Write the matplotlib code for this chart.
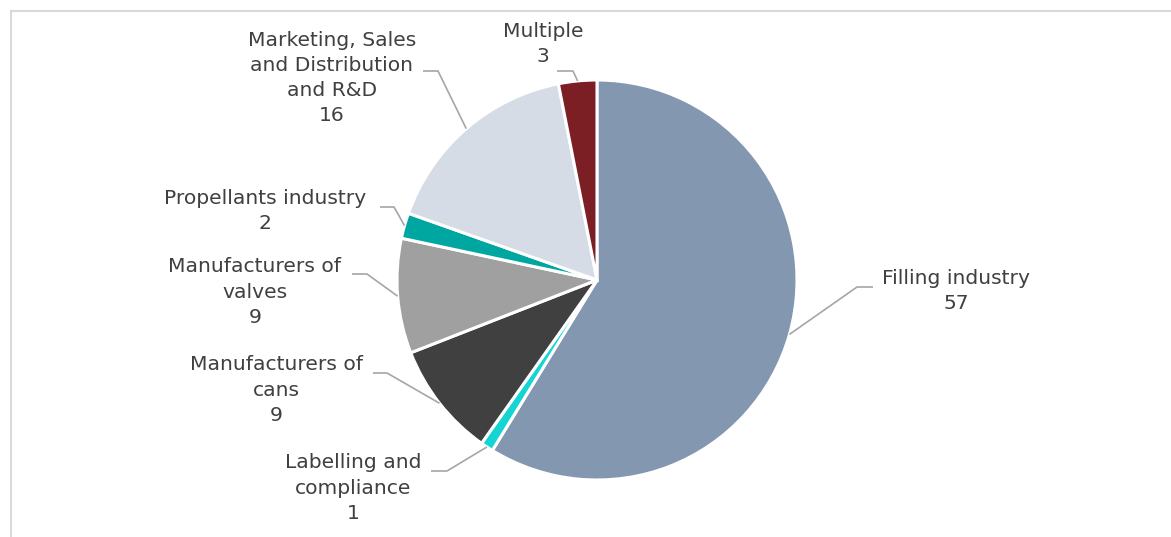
import numpy as np
import matplotlib
matplotlib.use("Agg")
import matplotlib.pyplot as plt

# data
labels = ["Filling industry", "Labelling and\ncompliance", "Manufacturers of\ncans",
          "Manufacturers of\nvalves", "Propellants industry", "Marketing, Sales\nand Distribution\nand R&D",
          "Multiple"]
values = [57, 1, 9, 9, 2, 16, 3]
colors = ["#8497B0", "#17D4D4", "#404040", "#A0A0A0", "#00A6A0", "#D6DCE5", "#7B1F24"]

# label layout in pixels: text centre x, y and leader elbow (x_elbow, x_end, y)
text_pos = [(956, 291), (353, 488), (276, 390), (255, 292), (265, 211), (332, 78), (543, 44)]
elbow = [(857, 873, 287), (447, 431, 471), (387, 373, 373), (367, 352, 274),
         (394, 380, 207), (438, 423, 71), (573, 557, 71)]

W, H = 1171, 537
cx, cy, R = 597, 280, 200
text_col = "#404040"
line_col = "#A6A6A6"

fig = plt.figure(figsize=(W / 100, H / 100), dpi=100)
ax = fig.add_axes([0, 0, 1, 1])

# y axis runs downward, so counterclock=True in data = clockwise on screen
wedges, _ = ax.pie(values, colors=colors, startangle=-90, counterclock=True,
                   center=(cx, cy), radius=R,
                   wedgeprops=dict(edgecolor="white", linewidth=2.2))
ax.set_xlim(0, W)
ax.set_ylim(H, 0)
ax.set_aspect("equal")
ax.axis("off")

for w, lab, v, (tx, ty), (ex, ex2, ey) in zip(wedges, labels, values, text_pos, elbow):
    mid = np.deg2rad((w.theta1 + w.theta2) / 2)
    px, py = cx + R * np.cos(mid), cy + R * np.sin(mid)
    ax.plot([px, ex, ex2], [py, ey, ey], color=line_col, lw=1.2, solid_capstyle="butt")
    ax.text(tx, ty, f"{lab}\n{v}", ha="center", va="center", multialignment="center",
            fontsize=14.6, color=text_col, linespacing=1.42)

# light frame of the chart area
ax.plot([11, 11], [11, H], color="#D9D9D9", lw=1.5)
ax.plot([11, W], [11, 11], color="#D9D9D9", lw=1.5)

fig.savefig("out.png", dpi=100)
